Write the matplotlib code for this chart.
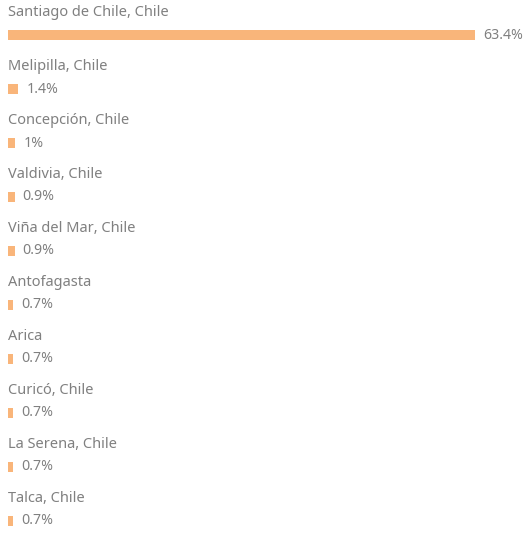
import matplotlib
matplotlib.use("Agg")
import matplotlib.pyplot as plt
import numpy as np

categories = ["Santiago de Chile, Chile", "Melipilla, Chile", "Concepción, Chile",
              "Valdivia, Chile", "Viña del Mar, Chile", "Antofagasta", "Arica",
              "Curicó, Chile", "La Serena, Chile", "Talca, Chile"]
values = [63.4, 1.4, 1.0, 0.9, 0.9, 0.7, 0.7, 0.7, 0.7, 0.7]
value_labels = ["63.4%", "1.4%", "1%", "0.9%", "0.9%", "0.7%", "0.7%", "0.7%", "0.7%", "0.7%"]

W, H = 527, 535
fig = plt.figure(figsize=(W / 100, H / 100), dpi=100)
left_px = 8
ax = fig.add_axes([left_px / W, 0, 1 - left_px / W, 1])
px_per_unit = 467 / 63.4
ax.set_xlim(0, (W - left_px) / px_per_unit)
row_px = 54
ax.set_ylim((H - 35) / row_px, -35 / row_px)
ax.axis("off")

bar_color = "#F9B57A"
text_color = "#808080"
font = ["Noto Sans", "DejaVu Sans"]
y = np.arange(len(categories))
ax.barh(y, values, height=10.5 / row_px, color=bar_color, edgecolor="none")
for i, (cat, v, lab) in enumerate(zip(categories, values, value_labels)):
    ax.text(0, i - 23 / row_px, cat, ha="left", va="center", fontsize=10.5,
            color=text_color, family=font, fontweight="light")
    ax.annotate(lab, (v, i), xytext=(8, 0), textcoords="offset pixels",
                ha="left", va="center", fontsize=10.2, color=text_color,
                family=font, fontweight="light")

fig.savefig("out.png", dpi=100)
